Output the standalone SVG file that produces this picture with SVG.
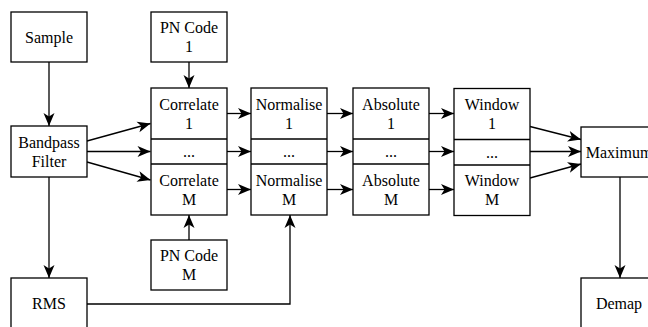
<svg xmlns="http://www.w3.org/2000/svg" width="648" height="327" viewBox="0 0 648 327" font-family="'Liberation Serif', 'DejaVu Serif', serif">
  <style>
    .box { fill: #ffffff; stroke: #000000; stroke-width: 1.3; }
    .div { fill: none; stroke: #000000; stroke-width: 1.3; }
    .lbl { font-family: 'Liberation Serif', 'DejaVu Serif', serif; font-size: 16px; fill: #000000; text-anchor: middle; }
    .edge { fill: none; stroke: #000000; stroke-width: 1.3; marker-end: url(#arrow); }
  </style>
  <defs>
    <marker id="arrow" viewBox="-14 -7 16 14" refX="0" refY="0" markerWidth="16" markerHeight="14" markerUnits="userSpaceOnUse" orient="auto">
      <path d="M0,0 L-13,-5.5 L-9.5,0 L-13,5.5 Z" fill="#000000"/>
    </marker>
  </defs>

  <!-- connectors -->
  <g id="connectors">
    <line class="edge" x1="49" y1="62" x2="49" y2="126"/>
    <line class="edge" x1="49" y1="177" x2="49" y2="278"/>
    <line class="edge" x1="87" y1="141" x2="150.5" y2="123.5"/>
    <line class="edge" x1="87" y1="151.5" x2="150.5" y2="151.5"/>
    <line class="edge" x1="87" y1="162" x2="150.5" y2="180"/>
    <line class="edge" x1="189" y1="62" x2="189" y2="88"/>
    <line class="edge" x1="189" y1="240" x2="189" y2="215"/>
    <line class="edge" x1="227" y1="113.5" x2="251" y2="113.5"/>
    <line class="edge" x1="227" y1="151.5" x2="251" y2="151.5"/>
    <line class="edge" x1="227" y1="189.5" x2="251" y2="189.5"/>
    <line class="edge" x1="327" y1="113.5" x2="353" y2="113.5"/>
    <line class="edge" x1="327" y1="151.5" x2="353" y2="151.5"/>
    <line class="edge" x1="327" y1="189.5" x2="353" y2="189.5"/>
    <line class="edge" x1="429" y1="113.5" x2="454" y2="113.5"/>
    <line class="edge" x1="429" y1="151.5" x2="454" y2="151.5"/>
    <line class="edge" x1="429" y1="189.5" x2="454" y2="189.5"/>
    <line class="edge" x1="530" y1="126.5" x2="581" y2="139.5"/>
    <line class="edge" x1="530" y1="151.5" x2="581" y2="151.5"/>
    <line class="edge" x1="530" y1="178" x2="581" y2="164"/>
    <polyline class="edge" points="87,304 290,304 290,215"/>
    <line class="edge" x1="620" y1="177" x2="620" y2="278"/>
  </g>

  <g id="sample">
    <rect class="box" x="11" y="12" width="76" height="50"/>
    <text class="lbl" x="49" y="42.5">Sample</text>
  </g>

  <g id="bandpass">
    <rect class="box" x="11" y="126" width="76" height="51"/>
    <text class="lbl" x="49" y="147.5">Bandpass<tspan x="49" dy="19">Filter</tspan></text>
  </g>

  <g id="rms">
    <rect class="box" x="11" y="278" width="76" height="50"/>
    <text class="lbl" x="49" y="309">RMS</text>
  </g>

  <g id="pn-code-1">
    <rect class="box" x="151" y="12" width="76" height="50"/>
    <text class="lbl" x="189" y="33">PN Code<tspan x="189" dy="19">1</tspan></text>
  </g>

  <g id="pn-code-m">
    <rect class="box" x="151" y="240" width="76" height="50"/>
    <text class="lbl" x="189" y="261">PN Code<tspan x="189" dy="19">M</tspan></text>
  </g>

  <g id="correlate">
    <rect class="box" x="151" y="88" width="76" height="127"/>
    <line class="div" x1="151" y1="139" x2="227" y2="139"/>
    <line class="div" x1="151" y1="164" x2="227" y2="164"/>
    <text class="lbl" x="189" y="109.5">Correlate<tspan x="189" dy="19">1</tspan></text>
    <text class="lbl" x="189" y="157">...</text>
    <text class="lbl" x="189" y="185.5">Correlate<tspan x="189" dy="19">M</tspan></text>
  </g>

  <g id="normalise">
    <rect class="box" x="251" y="88" width="76" height="127"/>
    <line class="div" x1="251" y1="139" x2="327" y2="139"/>
    <line class="div" x1="251" y1="164" x2="327" y2="164"/>
    <text class="lbl" x="289" y="109.5">Normalise<tspan x="289" dy="19">1</tspan></text>
    <text class="lbl" x="289" y="157">...</text>
    <text class="lbl" x="289" y="185.5">Normalise<tspan x="289" dy="19">M</tspan></text>
  </g>

  <g id="absolute">
    <rect class="box" x="353" y="88" width="76" height="127"/>
    <line class="div" x1="353" y1="139" x2="429" y2="139"/>
    <line class="div" x1="353" y1="164" x2="429" y2="164"/>
    <text class="lbl" x="391" y="109.5">Absolute<tspan x="391" dy="19">1</tspan></text>
    <text class="lbl" x="391" y="157">...</text>
    <text class="lbl" x="391" y="185.5">Absolute<tspan x="391" dy="19">M</tspan></text>
  </g>

  <g id="window">
    <rect class="box" x="454" y="88.5" width="76" height="127"/>
    <line class="div" x1="454" y1="139.5" x2="530" y2="139.5"/>
    <line class="div" x1="454" y1="165" x2="530" y2="165"/>
    <text class="lbl" x="492" y="110">Window<tspan x="492" dy="19">1</tspan></text>
    <text class="lbl" x="492" y="157.5">...</text>
    <text class="lbl" x="492" y="186">Window<tspan x="492" dy="19">M</tspan></text>
  </g>

  <g id="maximum">
    <rect class="box" x="581" y="127" width="76" height="50"/>
    <text class="lbl" x="619" y="157.5">Maximum</text>
  </g>

  <g id="demap">
    <rect class="box" x="581" y="278" width="76" height="50"/>
    <text class="lbl" x="619" y="309">Demap</text>
  </g>
</svg>
